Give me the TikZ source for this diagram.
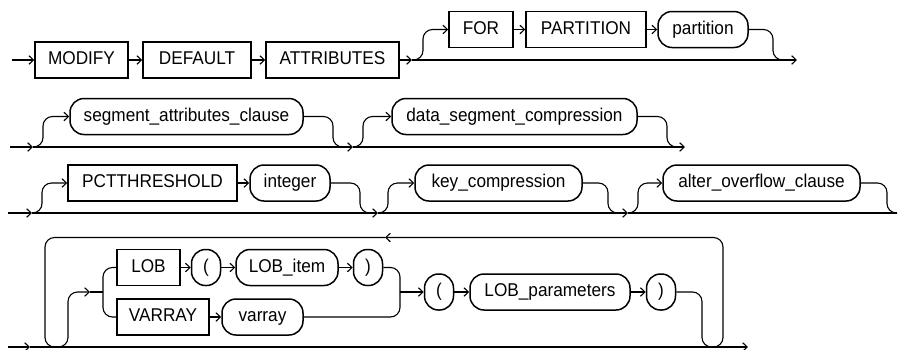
\documentclass[tikz,border=0pt]{standalone}
\usepackage{fontspec}
\setmainfont[FakeStretch=0.93]{Liberation Sans}
\usepackage{tikz}
\usetikzlibrary{arrows.meta,positioning,calc}
\definecolor{RailInk}{HTML}{000000}
\tikzset{
  raillabel/.style={font=\fontsize{18.5}{21}\selectfont, text=RailInk, text height=13pt, text depth=3.8pt, inner sep=0pt},
  railkw/.style={raillabel, draw=RailInk, line width=1.5pt, minimum height=36pt},
  railref/.style={raillabel, draw=RailInk, line width=1.5pt, rounded corners=14pt, minimum height=36pt},
  railparen/.style={railref, minimum width=29pt},
  railline/.style={draw=RailInk, line width=1.1pt, rounded corners=9.5pt},
  railflow/.style={railline, -{Straight Barb[length=4.5pt,width=8.5pt]}}
}

\begin{document}
\begin{tikzpicture}[x=1pt, y=-1pt]
\useasboundingbox (0,0) rectangle (903,349);

% row 1
\node[railkw, minimum width=93pt] (modify) at (81.5,60) {MODIFY};
\node[railkw, minimum width=108pt] (default) at (197,60) {DEFAULT};
\node[railkw, minimum width=133pt] (attrs) at (332.5,60) {ATTRIBUTES};
\node[railkw, minimum width=64pt] (for) at (481,29.5) {FOR};
\node[railkw, minimum width=120pt] (partkw) at (586,29.5) {PARTITION};
\node[railref, minimum width=90pt] (part) at (703,29.5) {partition};
\coordinate (in1) at (12,60);
\coordinate (j1) at (412,60);
\coordinate (r1) at (773,60);
\coordinate (e1) at (797,60);
\draw[railflow] (in1) -- (modify.west);
\draw[railflow] (modify.east) -- (default.west);
\draw[railflow] (default.east) -- (attrs.west);
\draw[railflow] (attrs.east) -- (j1);
\draw[railflow] (j1) -- (e1);
\draw[railflow] (j1) -- ++(11,0) |- (for.west);
\draw[railflow] (for.east) -- (partkw.west);
\draw[railflow] (partkw.east) -- (part.west);
\draw[railline] (part.east) -| (r1) -- ++(10,0);

% row 2
\node[railref, minimum width=233pt] (segattr) at (186.5,116.5) {segment\_attributes\_clause};
\node[railref, minimum width=245pt] (datacomp) at (514.5,116.5) {data\_segment\_compression};
\coordinate (in2) at (10,147);
\coordinate (j2) at (33,147);
\coordinate (r2) at (333,147);
\coordinate (j3) at (353,147);
\coordinate (r3) at (667,147);
\coordinate (e2) at (685,147);
\draw[railflow] (in2) -- (j2);
\draw[railflow] (j2) -- (j3);
\draw[railflow] (j3) -- (e2);
\draw[railflow] (j2) -- ++(10,0) |- (segattr.west);
\draw[railline] (segattr.east) -| (r2) -- ++(10,0);
\draw[railflow] (j3) -- ++(10,0) |- (datacomp.west);
\draw[railline] (datacomp.east) -| (r3) -- ++(10,0);

% row 3
\node[railkw, minimum width=169pt] (pct) at (152.5,183) {PCTTHRESHOLD};
\node[railref, minimum width=80pt] (integer) at (290,183) {integer};
\node[railref, minimum width=167pt] (keycomp) at (498.5,183) {key\_compression};
\node[railref, minimum width=197pt] (overflow) at (761.5,183) {alter\_overflow\_clause};
\coordinate (in3) at (8,213);
\coordinate (j4) at (32,213);
\coordinate (r4) at (360,213);
\coordinate (j5) at (378,213);
\coordinate (r5) at (608,213);
\coordinate (j6) at (628,213);
\coordinate (r6) at (887,213);
\coordinate (e3) at (897,213);
\draw[railflow] (in3) -- (j4);
\draw[railflow] (j4) -- (j5);
\draw[railflow] (j5) -- (j6);
\draw[railline] (j6) -- (e3);
\draw[railflow] (j4) -- ++(10,0) |- (pct.west);
\draw[railflow] (pct.east) -- (integer.west);
\draw[railline] (integer.east) -| (r4) -- ++(10,0);
\draw[railflow] (j5) -- ++(10,0) |- (keycomp.west);
\draw[railline] (keycomp.east) -| (r5) -- ++(10,0);
\draw[railflow] (j6) -- ++(10,0) |- (overflow.west);
\draw[railline] (overflow.east) -| (r6) -- ++(10,0);

% row 4
\node[railkw, minimum width=63pt] (lob) at (148.5,267.5) {LOB};
\node[railkw, minimum width=92pt] (varraykw) at (163,317) {VARRAY};
\node[railparen] (lpa) at (206,267.5) {(};
\node[railref, minimum width=102pt] (lobitem) at (287,267.5) {LOB\_item};
\node[railparen] (rpa) at (368,267.5) {)};
\node[railref, minimum width=81pt] (varray) at (262.5,317) {varray};
\node[railparen] (lpb) at (439,292) {(};
\node[railref, minimum width=160pt] (lobparams) at (550,292) {LOB\_parameters};
\node[railparen] (rpb) at (661,292) {)};
\coordinate (in4) at (8,347);
\coordinate (j7) at (30,347);
\coordinate (e4) at (748,347);
\coordinate (lb) at (45,347);
\coordinate (lu) at (68,347);
\coordinate (rb) at (702,347);
\coordinate (ru) at (723,347);
\coordinate (back) at (385,237.5);
\coordinate (s1) at (90,292);
\coordinate (split) at (103,292);
\coordinate (merge) at (400,292);
\draw[railflow] (in4) -- (j7);
\draw[railflow] (j7) -- (e4);
\draw[railflow] (rpb.east) -| (rb) -- (ru) |- (back);
\draw[railflow] (back) -| (lb) -- (lu) |- (s1);
\draw[railline] (s1) -- (split);
\draw[railline] (split) |- (lob.west);
\draw[railline] (split) |- (varraykw.west);
\draw[railflow] (lob.east) -- (lpa.west);
\draw[railflow] (lpa.east) -- (lobitem.west);
\draw[railflow] (lobitem.east) -- (rpa.west);
\draw[railflow] (varraykw.east) -- (varray.west);
\draw[railline] (rpa.east) -| (merge);
\draw[railline] (varray.east) -| (merge);
\draw[railflow] (merge) -- (lpb.west);
\draw[railflow] (lpb.east) -- (lobparams.west);
\draw[railflow] (lobparams.east) -- (rpb.west);
\end{tikzpicture}
\end{document}
